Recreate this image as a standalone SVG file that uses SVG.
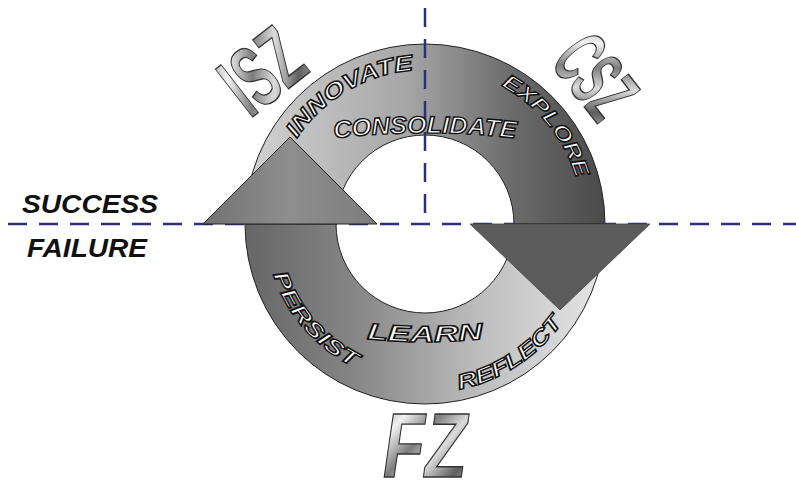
<svg xmlns="http://www.w3.org/2000/svg" width="796" height="482" viewBox="0 0 796 482">
<style>
.axis{fill:none;stroke:#2e2e7a;stroke-width:2.5;stroke-dasharray:19 12}
.band{font-family:"Liberation Sans",Arial,sans-serif;font-weight:bold;font-style:italic;fill:#fff;stroke:#111;stroke-width:1.4}
.metal{font-family:"Liberation Sans",Arial,sans-serif;font-weight:bold;fill:url(#metal);stroke:#333;stroke-width:1.4}
.side{font-family:"Liberation Sans",Arial,sans-serif;font-weight:bold;font-style:italic;fill:#111;font-size:25px}
.edge{stroke:#222;stroke-width:1}
</style>
<defs>
<linearGradient id="topG" gradientUnits="userSpaceOnUse" x1="245" y1="0" x2="605" y2="0">
<stop offset="0" stop-color="#d2d2d2"/><stop offset="0.45" stop-color="#a6a6a6"/><stop offset="0.75" stop-color="#6a6a6a"/><stop offset="1" stop-color="#4a4a4a"/>
</linearGradient>
<linearGradient id="botG" gradientUnits="userSpaceOnUse" x1="245" y1="0" x2="605" y2="0">
<stop offset="0" stop-color="#666"/><stop offset="0.3" stop-color="#858585"/><stop offset="0.65" stop-color="#bdbdbd"/><stop offset="1" stop-color="#e6e6e6"/>
</linearGradient>
<linearGradient id="leftHead" gradientUnits="userSpaceOnUse" x1="203" y1="0" x2="377" y2="0">
<stop offset="0" stop-color="#727272"/><stop offset="0.5" stop-color="#8e8e8e"/><stop offset="1" stop-color="#7c7c7c"/>
</linearGradient>
<linearGradient id="metal" x1="0" y1="0" x2="1" y2="1">
<stop offset="0" stop-color="#8a8a8a"/><stop offset="0.22" stop-color="#f2f2f2"/><stop offset="0.42" stop-color="#7c7c7c"/><stop offset="0.6" stop-color="#dcdcdc"/><stop offset="0.8" stop-color="#5e5e5e"/><stop offset="1" stop-color="#b8b8b8"/>
</linearGradient>
<path id="pInnovate" d="M 276 184.9 A 154 154 0 0 1 464.1 75"/>
<path id="pExplore" d="M 441.5 66.9 A 158 158 0 0 1 582.1 240.5"/>
<path id="pPersist" d="M 265.4 212.8 A 160 160 0 0 0 413.8 383.6"/>
<path id="pReflect" d="M 389.9 389.3 A 169 169 0 0 0 590.3 259.1"/>
<path id="pConsolidate" d="M 320 140 Q 425 126 530 140"/>
<path id="pLearn" d="M 350 337 Q 425 347 500 337"/>
</defs>
<rect width="796" height="482" fill="#fff"/>
<g id="connectors">
<line id="axis-h" class="axis" x1="8" y1="224" x2="796" y2="224"/>
</g>
<g id="ring-top">
<path class="edge" fill="url(#topG)" d="M 245 224 A 180 180 0 0 1 605 224 L 514 224 A 89 89 0 0 0 336 224 Z"/>
</g>
<g id="ring-bottom">
<path class="edge" fill="url(#botG)" d="M 605 224 A 180 180 0 0 1 245 224 L 336 224 A 89 89 0 0 0 514 224 Z"/>
</g>
<g id="arrow-up">
<polygon class="edge" fill="url(#leftHead)" stroke-width="0.8" points="203,224 290,137 377,224"/>
</g>
<g id="arrow-down">
<polygon fill="#5c5c5c" stroke="#444" stroke-width="0.8" points="470,224 650,224 560,310"/>
</g>
<g id="axis-v-group">
<line id="axis-v" class="axis" x1="425" y1="8" x2="425" y2="224"/>
</g>
<g id="band-labels">
<text class="band" font-size="22"><textPath href="#pInnovate" startOffset="50%" text-anchor="middle" textLength="140" lengthAdjust="spacingAndGlyphs">INNOVATE</textPath></text>
<text class="band" font-size="24"><textPath href="#pConsolidate" startOffset="50%" text-anchor="middle" textLength="182" lengthAdjust="spacingAndGlyphs">CONSOLIDATE</textPath></text>
<text class="band" font-size="21"><textPath href="#pExplore" startOffset="50%" text-anchor="middle" textLength="122" lengthAdjust="spacingAndGlyphs">EXPLORE</textPath></text>
<text class="band" font-size="21"><textPath href="#pPersist" startOffset="50%" text-anchor="middle" textLength="126" lengthAdjust="spacingAndGlyphs">PERSIST</textPath></text>
<text class="band" font-size="23"><textPath href="#pLearn" startOffset="50%" text-anchor="middle" textLength="116" lengthAdjust="spacingAndGlyphs">LEARN</textPath></text>
<text class="band" font-size="21"><textPath href="#pReflect" startOffset="50%" text-anchor="middle" textLength="126" lengthAdjust="spacingAndGlyphs">REFLECT</textPath></text>
</g>
<g id="zone-ISZ">
<text class="metal" transform="translate(250,119) rotate(-38)" font-size="88" textLength="78" lengthAdjust="spacingAndGlyphs">ISZ</text>
</g>
<g id="zone-CSZ">
<text class="metal" transform="translate(549,62) rotate(52)" font-size="80" textLength="80" lengthAdjust="spacingAndGlyphs">CSZ</text>
</g>
<g id="zone-FZ">
<text class="metal" x="383" y="477" font-size="90" font-style="italic" textLength="84" lengthAdjust="spacingAndGlyphs">FZ</text>
</g>
<g id="side-labels">
<text class="side" x="22" y="213" textLength="136" lengthAdjust="spacingAndGlyphs">SUCCESS</text>
<text class="side" x="27" y="257" textLength="120" lengthAdjust="spacingAndGlyphs">FAILURE</text>
</g>
</svg>
